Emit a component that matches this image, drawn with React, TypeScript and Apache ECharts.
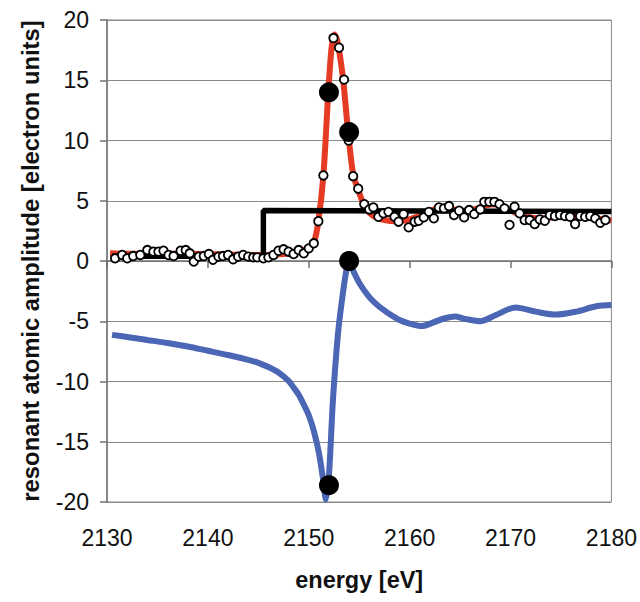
import React, { useEffect, useRef } from "react";
import * as echarts from "echarts";

// measured points (open circles): [energy eV, amplitude]
const measured: [number, number][] = [
  [2130.8, 0.22], [2131.5, 0.5], [2132.0, 0.22], [2132.6, 0.41], [2133.3, 0.5], [2134.0, 0.91],
  [2134.6, 0.77], [2135.1, 0.77], [2135.6, 0.85], [2136.1, 0.5], [2136.6, 0.41], [2137.3, 0.85],
  [2137.8, 0.91], [2138.2, 0.64], [2138.6, -0.05], [2139.1, 0.36], [2139.6, 0.41], [2140.1, 0.58],
  [2140.5, 0.1], [2141.05, 0.36], [2141.5, 0.41], [2142.0, 0.5], [2142.5, 0.14], [2143.0, 0.36],
  [2143.5, 0.5], [2144.0, 0.36], [2144.5, 0.3], [2144.9, 0.3], [2145.5, 0.22], [2146.0, 0.3],
  [2146.5, 0.5], [2147.0, 0.85], [2147.5, 0.97], [2148.0, 0.77], [2148.5, 0.58], [2149.0, 0.91],
  [2149.5, 0.64], [2150.0, 1.05], [2150.5, 1.47], [2150.95, 3.3], [2151.45, 7.1], [2151.95, 13.8],
  [2152.45, 18.5], [2153.0, 17.7], [2153.5, 15.05], [2153.95, 10.0], [2154.4, 7.04], [2154.9, 6.0],
  [2155.5, 4.72], [2156.0, 4.28], [2156.4, 4.45], [2156.9, 3.67], [2157.4, 3.95], [2157.9, 4.08],
  [2158.5, 3.67], [2158.9, 3.26], [2159.4, 3.89], [2159.9, 2.79], [2160.5, 3.26], [2160.9, 3.34],
  [2161.4, 3.62], [2161.9, 4.08], [2162.4, 3.54], [2162.9, 4.45], [2163.4, 4.37], [2163.9, 4.56],
  [2164.4, 3.81], [2164.9, 4.17], [2165.4, 3.62], [2165.9, 4.23], [2166.4, 3.89], [2167.0, 4.28],
  [2167.4, 4.91], [2167.9, 4.91], [2168.4, 4.91], [2168.9, 4.72], [2169.4, 4.37], [2169.9, 3.0],
  [2170.4, 4.5], [2170.9, 3.95], [2171.4, 3.4], [2171.9, 3.4], [2172.4, 3.07], [2172.9, 3.45],
  [2173.4, 3.34], [2173.9, 3.81], [2174.4, 3.73], [2174.9, 3.81], [2175.4, 3.73], [2175.9, 3.67],
  [2176.4, 3.07], [2176.9, 3.73], [2177.4, 3.67], [2177.9, 3.73], [2178.4, 3.54], [2178.9, 3.17],
  [2179.4, 3.4],
];

// fitted imaginary part (red)
const fitCurve: [number, number][] = [
  [2130.3, 0.65], [2132, 0.6], [2135, 0.6], [2138, 0.6], [2141, 0.55], [2144, 0.5], [2146, 0.5],
  [2147, 0.55], [2148, 0.65], [2149, 0.8], [2149.5, 0.9], [2150, 1.1], [2150.5, 1.5],
  [2150.95, 3.3], [2151.45, 7.1], [2151.9, 13.5], [2152.25, 17.6], [2152.55, 18.8], [2152.85, 18.2],
  [2153.4, 15.1], [2153.9, 10.7], [2154.4, 7.2], [2154.9, 5.9], [2155.4, 4.8], [2156, 4.0],
  [2156.7, 3.6], [2157.5, 3.4], [2158.5, 3.3], [2159.5, 3.35], [2160.5, 3.6], [2161.5, 3.95],
  [2162.5, 4.3], [2163.5, 4.4], [2164.5, 4.25], [2165.5, 4.15], [2166.5, 4.3], [2167.5, 4.6],
  [2168.5, 4.7], [2169.5, 4.4], [2170.5, 4.0], [2171.5, 3.7], [2172.5, 3.55], [2173.5, 3.55],
  [2174.5, 3.65], [2175.5, 3.7], [2176.5, 3.65], [2177.5, 3.6], [2178.5, 3.5], [2179.3, 3.45],
  [2180, 3.35],
];

// step (black)
const stepLine: [number, number][] = [
  [2130.5, 0.4], [2145.5, 0.4], [2145.5, 4.2], [2180, 4.1],
];

// real part (blue)
const realCurve: [number, number][] = [
  [2130.5, -6.13], [2132, -6.3], [2134, -6.55], [2136, -6.8], [2138, -7.1], [2140, -7.45],
  [2142, -7.8], [2144, -8.2], [2145, -8.45], [2146, -8.8], [2147, -9.25], [2148, -9.95],
  [2148.5, -10.5], [2149, -11.1], [2149.5, -11.9], [2150, -12.8], [2150.5, -14.1], [2151, -15.9],
  [2151.4, -18.0], [2151.7, -19.8], [2152.0, -17.8], [2152.4, -11.5],
  [2152.9, -6.0], [2153.3, -3.2], [2153.7, -0.9], [2154.0, 0.0], [2154.4, -0.8], [2155, -1.8],
  [2156, -3.0], [2157, -3.8], [2158, -4.4], [2159, -4.9], [2160, -5.2], [2161.2, -5.4],
  [2162.5, -5.05], [2163.5, -4.75], [2164.5, -4.6], [2165.5, -4.8], [2167, -5.0], [2168.5, -4.5],
  [2170.5, -3.85], [2172.5, -4.2], [2174.5, -4.45], [2176.5, -4.2], [2178.5, -3.75], [2180, -3.65],
];

// highlighted values (big black dots)
const highlighted: [number, number][] = [
  [2152, 14.0], [2154, 10.7], [2154, 0.0], [2152, -18.6],
];

const xTicks = { min: 2130, max: 2180, interval: 10 };
const yTicks = { min: -20, max: 20, interval: 5 };

const FONT = "'Liberation Sans', Arial, sans-serif";

export default function App() {
  const ref = useRef<HTMLDivElement>(null);
  useEffect(() => {
    if (!ref.current) return;
    const chart = echarts.init(ref.current, undefined, { renderer: "svg" });
    chart.setOption({
      animation: false,
      backgroundColor: "#ffffff",
      grid: {
        left: 107,
        right: 28,
        top: 20,
        bottom: 100,
        show: true,
        borderColor: "#8a8a8a",
        borderWidth: 1,
      },
      xAxis: {
        type: "value",
        min: xTicks.min,
        max: xTicks.max,
        interval: xTicks.interval,
        name: "energy [eV]",
        nameLocation: "middle",
        nameGap: 66,
        nameTextStyle: { fontFamily: FONT, fontSize: 23.5, fontWeight: "bold", color: "#111" },
        axisLine: { show: true, lineStyle: { color: "#707070", width: 1.5 } },
        axisTick: { show: true, length: 7, lineStyle: { color: "#707070", width: 1.5 } },
        axisLabel: {
          fontFamily: FONT,
          fontSize: 23,
          color: "#111",
          margin: 24,
          formatter: (v: number) => String(v),
        },
        splitLine: { show: false },
      },
      yAxis: {
        type: "value",
        min: yTicks.min,
        max: yTicks.max,
        interval: yTicks.interval,
        name: "resonant atomic amplitude [electron units]",
        nameLocation: "middle",
        nameGap: 65,
        nameTextStyle: { fontFamily: FONT, fontSize: 23.8, fontWeight: "bold", color: "#111" },
        axisLine: { show: true, lineStyle: { color: "#707070", width: 1.5 } },
        axisTick: { show: true, length: 7, lineStyle: { color: "#707070", width: 1.5 } },
        axisLabel: {
          fontFamily: FONT,
          fontSize: 23,
          color: "#111",
          margin: 18,
          formatter: (v: number) => String(v),
        },
        splitLine: { show: true, lineStyle: { color: "#8a8a8a", width: 1 } },
      },
      series: [
        {
          type: "line",
          data: fitCurve,
          showSymbol: false,
          smooth: 0.3,
          lineStyle: { color: "#e53b24", width: 6 },
          z: 2,
        },
        {
          type: "line",
          data: stepLine,
          showSymbol: false,
          lineStyle: { color: "#000000", width: 5.5 },
          z: 3,
        },
        {
          type: "line",
          data: realCurve,
          showSymbol: false,
          smooth: 0.3,
          lineStyle: { color: "#4a66b4", width: 6 },
          z: 3,
        },
        {
          type: "scatter",
          data: measured,
          symbol: "circle",
          symbolSize: 8.5,
          itemStyle: { color: "#ffffff", borderColor: "#000000", borderWidth: 1.8, opacity: 1 },
          z: 4,
        },
        {
          type: "scatter",
          data: highlighted,
          symbol: "circle",
          symbolSize: 20,
          itemStyle: { color: "#000000", opacity: 1 },
          z: 5,
        },
      ],
    });
    return () => chart.dispose();
  }, []);
  return (
    <div
      ref={ref}
      style={{ position: "fixed", left: 0, top: 0, width: 640, height: 602, background: "#fff" }}
    />
  );
}
